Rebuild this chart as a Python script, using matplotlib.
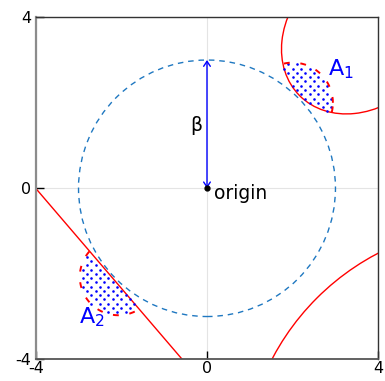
import numpy as np
import matplotlib
matplotlib.use("Agg")
import matplotlib.pyplot as plt
from matplotlib.patches import Ellipse, Circle

plt.rcParams['font.family'] = ['DejaVu Sans']
plt.rcParams['mathtext.default'] = 'regular'

# axis range and ticks
lim = 4.0
ticks = [-4, 0, 4]
tick_labels = ['-4', '0', '4']

# reliability index circle
beta = 3.0

# limit state 1: elliptical failure domain (upper right)
ell_center = (3.65, 3.65)
ell_semi_axes = (2.1, 1.7)   # along / across the diagonal
ell_angle = 45.0

# limit state 2: circular failure domain (lower right)
circ2_center = (6.7, -6.7)
circ2_radius = 5.845

# limit state 3: linear limit state through two points (lower left)
line_p1 = (-4.0, 0.0)
line_p2 = (-0.58, -4.0)

# important regions around the design points
a1_center = (2.0, 2.0)
a1_radius = 0.94
a2_center = (-2.07, -2.07)
a2_radius = 0.9

RED = '#ff0000'
BLUE = '#0000ff'
CIRC_BLUE = '#1f78c1'


def inside_ellipse(x, y):
    c, s = np.cos(np.radians(ell_angle)), np.sin(np.radians(ell_angle))
    dx, dy = x - ell_center[0], y - ell_center[1]
    u = dx * c + dy * s
    v = -dx * s + dy * c
    return (u / ell_semi_axes[0]) ** 2 + (v / ell_semi_axes[1]) ** 2 <= 1.0


def beyond_line(x, y):
    (x1, y1), (x2, y2) = line_p1, line_p2
    f = (y2 - y1) * (x - x1) - (x2 - x1) * (y - y1)
    f0 = (y2 - y1) * (0 - x1) - (x2 - x1) * (0 - y1)
    return np.sign(f) != np.sign(f0)


fig = plt.figure(figsize=(3.85, 3.81), dpi=100)
ax = fig.add_axes([0.0927, 0.0570, 0.8899, 0.8976])

ax.set_xlim(-lim, lim)
ax.set_ylim(-lim, lim)
ax.set_xticks(ticks)
ax.set_xticklabels(tick_labels)
ax.set_yticks(ticks)
ax.set_yticklabels(tick_labels)
ax.tick_params(direction='in', length=6, width=1, labelsize=11.5, pad=3,
               colors='black')
ax.tick_params(axis='x', pad=1.5)
ax.grid(True, color='#e4e4e4', lw=0.8)
ax.set_axisbelow(True)

ax.spines['left'].set_color('#8c8c8c')
ax.spines['left'].set_linewidth(1.6)
ax.spines['bottom'].set_color('#555555')
ax.spines['bottom'].set_linewidth(1.3)
for side in ('top', 'right'):
    ax.spines[side].set_color('#333333')
    ax.spines[side].set_linewidth(1.0)

# beta circle
ax.add_patch(Circle((0, 0), beta, fill=False, ec=CIRC_BLUE, lw=1.0,
                    ls=(0, (4, 3.5))))

# limit state curves
ax.add_patch(Ellipse(ell_center, 2 * ell_semi_axes[0], 2 * ell_semi_axes[1],
                     angle=ell_angle, fill=False, ec=RED, lw=1.0))
ax.add_patch(Circle(circ2_center, circ2_radius, fill=False, ec=RED, lw=1.0))
ax.axline(line_p1, line_p2, color=RED, lw=1.0)

# dotted important regions with dashed outer boundary
xs = np.arange(-4.0, 4.0001, 0.2)
ys = np.arange(-4.0, 4.0001, 0.1)
gx, gy = [], []
for j, y in enumerate(ys):
    off = 0.1 if j % 2 else 0.0
    gx.extend(xs + off)
    gy.extend([y] * len(xs))
gx = np.array(gx)
gy = np.array(gy)

t = np.linspace(0, 2 * np.pi, 400)
regions = [(a1_center, a1_radius, inside_ellipse),
           (a2_center, a2_radius, beyond_line)]
for center, radius, in_fail in regions:
    in_disk = (gx - center[0]) ** 2 + (gy - center[1]) ** 2 <= radius ** 2
    sel = in_disk & in_fail(gx, gy)
    ax.scatter(gx[sel], gy[sel], s=3.5, color=BLUE, lw=0, zorder=3)
    cx = center[0] + radius * np.cos(t)
    cy = center[1] + radius * np.sin(t)
    arc = np.where(in_fail(cx, cy), cy, np.nan)
    ax.plot(cx, arc, color=RED, lw=1.4, ls=(0, (3, 5.5)), zorder=4)

# beta arrow and origin
ax.annotate('', xy=(0, beta), xytext=(0, 0),
            arrowprops=dict(arrowstyle='<->,head_length=0.36,head_width=0.24',
                            color=BLUE, lw=1.0, shrinkA=0, shrinkB=0,
                            mutation_scale=10), zorder=5)
ax.plot([0], [0], 'o', color='black', ms=3.5, zorder=6)

ax.text(-0.25, 1.47, 'β', fontsize=13.5, ha='center', va='center')
ax.text(0.17, -0.257, 'origin', fontsize=13.5, ha='left', va='baseline')
ax.text(2.83, 2.65, '$A_1$', fontsize=16, color=BLUE, ha='left',
        va='baseline')
ax.text(-2.98, -3.16, '$A_2$', fontsize=16, color=BLUE, ha='left',
        va='baseline')

fig.savefig('out.png', dpi=100)
